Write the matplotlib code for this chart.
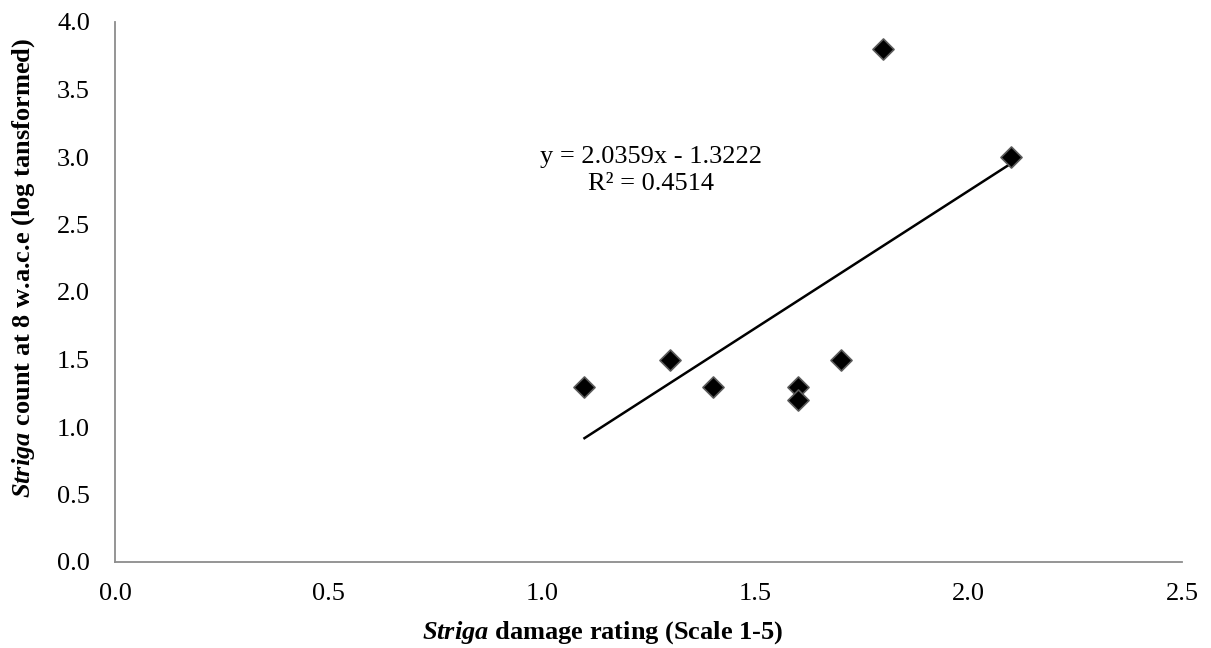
import matplotlib
matplotlib.use("Agg")
import matplotlib.pyplot as plt
import numpy as np

plt.rcParams['font.family'] = ['Liberation Serif', 'DejaVu Serif']
plt.rcParams['mathtext.fontset'] = 'custom'
plt.rcParams['mathtext.rm'] = 'Liberation Serif'
plt.rcParams['mathtext.it'] = 'Liberation Serif:italic'
plt.rcParams['mathtext.bf'] = 'Liberation Serif:bold'
plt.rcParams['mathtext.bfit'] = 'Liberation Serif:bold:italic'

damage = [1.1, 1.3, 1.4, 1.6, 1.6, 1.7, 1.8, 2.1]
count = [1.3, 1.5, 1.3, 1.3, 1.2, 1.5, 3.8, 3.0]
slope = 2.0359
intercept = -1.3222
r2 = 0.4514
xticks = [0.0, 0.5, 1.0, 1.5, 2.0, 2.5]
yticks = [0.0, 0.5, 1.0, 1.5, 2.0, 2.5, 3.0, 3.5, 4.0]

FS = 19

fig = plt.figure(figsize=(12.11, 6.48), dpi=100)
ax = fig.add_axes([115/1211, 1-562/648, 1067/1211, 540/648])

ax.scatter(damage, count, marker='D', s=115, facecolor='black',
           edgecolor='#5a5a5a', linewidth=1.2, zorder=3)
xt = np.array([min(damage), max(damage)])
ax.plot(xt, slope * xt + intercept, color='black', linewidth=1.8, zorder=2)

ax.text(1.255, 2.90, f"y = {slope:.4f}x - {abs(intercept):.4f}\nR² = {r2:.4f}",
        ha='center', va='center', fontsize=FS, linespacing=1.35)

ax.set_xlim(0, 2.5)
ax.set_ylim(0, 4.0)
ax.set_xticks(xticks)
ax.set_yticks(yticks)
ax.set_xticklabels([f"{v:.1f}" for v in xticks])
ax.set_yticklabels([f"{v:.1f}" for v in yticks])
ax.tick_params(length=0, labelsize=FS)
ax.tick_params(axis='x', pad=15)
ax.tick_params(axis='y', pad=18)
for s in ['top', 'right']:
    ax.spines[s].set_visible(False)
for s in ['left', 'bottom']:
    ax.spines[s].set_color('#8c8c8c')
    ax.spines[s].set_linewidth(1.3)

ax.set_xlabel(r"$\mathbfit{Striga}$ damage rating (Scale 1-5)",
              fontsize=FS, fontweight='bold')
ax.set_ylabel(r"$\mathbfit{Striga}$ count at 8 w.a.c.e (log tansformed)",
              fontsize=FS, fontweight='bold')
ax.xaxis.label.set_va('center')
ax.yaxis.label.set_va('center')
ax.yaxis.label.set_ha('center')
ax.xaxis.set_label_coords(0.457, -0.131)
ax.yaxis.set_label_coords(-0.086, 0.544)

fig.savefig("out.png", dpi=100)
